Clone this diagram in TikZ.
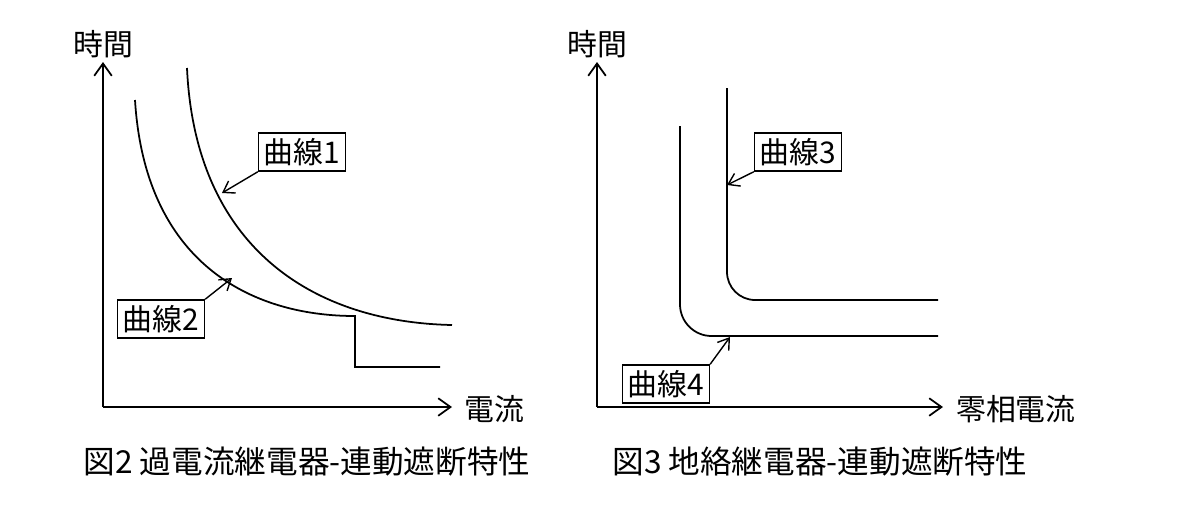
\documentclass[tikz,border=0pt]{standalone}
\usepackage{fontspec}
\setmainfont{Liberation Serif}
\newfontfamily\cjk{Noto Sans CJK JP}
\usetikzlibrary{arrows.meta}
\begin{document}
\begin{tikzpicture}[x=0.02cm,y=-0.02cm,
  ax/.style={line width=1pt,-{Straight Barb[length=7pt,width=10pt]}},
  cv/.style={line width=1pt},
  lb/.style={draw,line width=0.8pt,inner sep=3pt,font=\cjk\fontsize{17}{17}\selectfont},
  tx/.style={font=\cjk\fontsize{17}{17}\selectfont},
  captxt/.style={font=\cjk\fontsize{18}{18}\selectfont},
  pt/.style={line width=0.8pt,-{Straight Barb[length=6pt,width=8pt]}}]
\useasboundingbox (0,0) rectangle (1200,522);
% left
\coordinate (o1) at (103,407);
\coordinate (y1) at (103,62);
\coordinate (x1) at (452,407);
\draw[ax] (o1) -- (y1);
\draw[ax] (o1) -- (x1);
\node[tx] (t1) at (103,44) {時間};
\node[tx,anchor=west] (c1) at (458,409) {電流};
\draw[cv] (187,68) .. controls (195,245) and (310,322) .. (452,325);
\draw[cv] (135,100) .. controls (145,262) and (250,316) .. (355,316) -- (355,367) -- (440,367);
\node[lb] (k1) at (302,152) {曲線1};
\node[lb] (k2) at (161,319) {曲線2};
\coordinate (p1) at (222,193);
\coordinate (p2) at (232,278);
\draw[pt] (k1.south west) -- (p1);
\draw[pt] (k2.north east) -- (p2);
\node[captxt] (f2) at (307,462) {図2 過電流継電器-連動遮断特性};
% right
\coordinate (o2) at (597,407);
\coordinate (y2) at (597,62);
\coordinate (x2) at (943,407);
\draw[ax] (o2) -- (y2);
\draw[ax] (o2) -- (x2);
\node[tx] (t2) at (597,44) {時間};
\node[tx,anchor=west] (c2) at (950,409) {零相電流};
\draw[cv,rounded corners=16] (727,88) -- (727,300) -- (938,300);
\draw[cv,rounded corners=18] (680,126) -- (680,336) -- (938,336);
\node[lb] (k3) at (798,152) {曲線3};
\node[lb] (k4) at (666,384) {曲線4};
\coordinate (p3) at (727,185);
\coordinate (p4) at (730,337);
\draw[pt] (k3.south west) -- (p3);
\draw[pt] (k4.north east) -- (p4);
\node[captxt] (f3) at (820,462) {図3 地絡継電器-連動遮断特性};
\end{tikzpicture}
\end{document}
